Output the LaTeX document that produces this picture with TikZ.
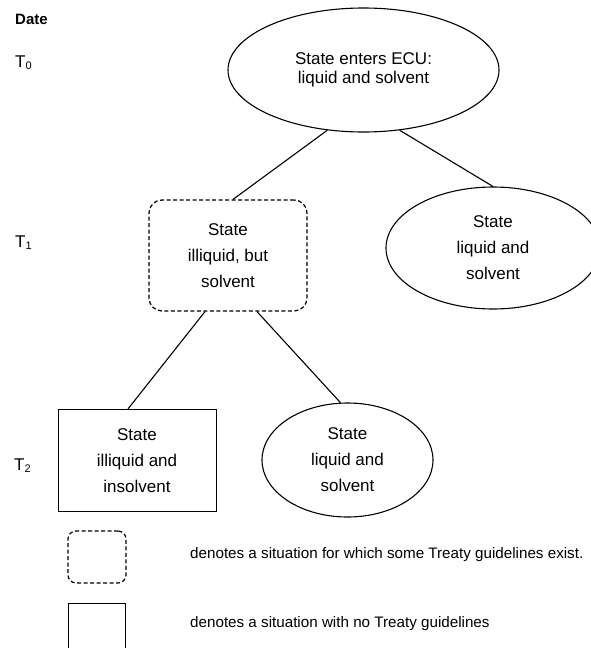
\documentclass[tikz,border=0pt]{standalone}
\usepackage{fontspec}
\setmainfont{Liberation Sans}
\usetikzlibrary{positioning,shapes.geometric}
\newcommand{\tsub}[1]{T\raisebox{-2.5pt}{\fontsize{11}{11}\selectfont #1}}

\begin{document}
\begin{tikzpicture}[x=1pt,y=-1pt,every node/.style={font=\fontsize{17}{26}\selectfont,align=center,inner sep=0pt}]
      \tikzstyle{el}=[ellipse,draw,line width=1.1pt];
      \tikzstyle{dsh}=[rectangle,draw,rounded corners=13pt,dash pattern=on 4pt off 2.5pt,line width=1.2pt];
      \tikzstyle{sol}=[rectangle,draw,line width=0.8pt];
      \tikzstyle{lab}=[anchor=base west,font=\fontsize{17}{20}\selectfont];
      \useasboundingbox (0,0) rectangle (591,648);
      % dates
      \node[lab,font=\bfseries\fontsize{15}{18}\selectfont] (date) at (15,24) {Date};
      \node[lab] (t0) at (15,67)  {\tsub{0}};
      \node[lab] (t1) at (15,247) {\tsub{1}};
      \node[lab] (t2) at (14,470) {\tsub{2}};
      % states
      \node[el,minimum width=271pt,minimum height=124pt,font=\fontsize{17}{19}\selectfont] (entry) at (363.5,70) {State enters ECU:\\liquid and solvent};
      \node[dsh,minimum width=158pt,minimum height=111pt] (ill)  at (228,255.5) {State\\illiquid, but\\solvent};
      \node[el,minimum width=214pt,minimum height=122pt]  (liq1) at (493,248)   {State\\liquid and\\solvent};
      \node[sol,minimum width=158pt,minimum height=102pt] (ins)  at (137,460.3) {State\\illiquid and\\insolvent};
      \node[el,minimum width=171pt,minimum height=114pt]  (liq2) at (347.5,460) {State\\liquid and\\solvent};
      \draw[line width=1.1pt] (entry.-121)--([xshift=5pt]ill.north); \draw[line width=1.1pt] (entry.-59)--(liq1.north);
      \draw[line width=1.1pt] ([xshift=-23pt]ill.south)--([xshift=-9pt]ins.north); \draw[line width=1.1pt] ([xshift=29pt]ill.south)--(liq2.97);
      % key
      \node[dsh,rounded corners=8pt,minimum width=58pt,minimum height=52pt] (keyd) at (97,557) {};
      \node[sol,minimum width=57pt,minimum height=50pt] (keys) at (96.5,628.3) {};
      \node[anchor=base west,font=\fontsize{15.2}{18}\selectfont] (keydtxt) at (190,558) {denotes a situation for which some Treaty guidelines exist.};
      \node[anchor=base west,font=\fontsize{15.2}{18}\selectfont] (keystxt) at (190,627) {denotes a situation with no Treaty guidelines};
    \end{tikzpicture}
\end{document}
